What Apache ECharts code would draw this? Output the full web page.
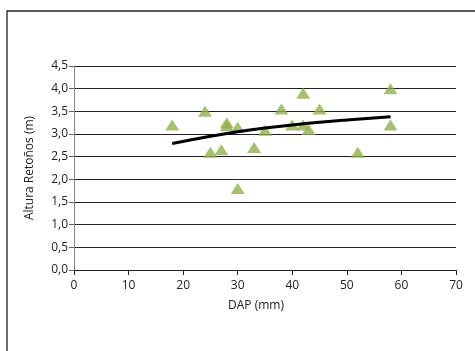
<!DOCTYPE html>
<html>
<head>
<meta charset="utf-8">
<script src="https://cdn.jsdelivr.net/npm/echarts@6/dist/echarts.min.js"></script>
<style>
html, body { margin: 0; padding: 0; background: #fff; }
#main { width: 475px; height: 351px; }
</style>
</head>
<body>
<div id="main"></div>
<script>
// observed points: DAP (mm) and height (m)
var dap = [18, 24, 25, 27, 28, 28, 30, 30, 33, 35, 38, 40, 42, 42, 43, 45, 52, 58, 58];
var altura = [3.2, 3.5, 2.6, 2.65, 3.25, 3.18, 3.15, 1.8, 2.7, 3.08, 3.55, 3.2, 3.9, 3.2, 3.1, 3.55, 2.6, 4.0, 3.2];
// trend line
var trendX = [18, 25, 30, 35, 40, 45, 50, 58];
var trendY = [2.79, 2.95, 3.05, 3.13, 3.2, 3.26, 3.31, 3.38];

var myChart = echarts.init(document.getElementById('main'));

var points = dap.map(function (x, i) { return [x, altura[i]]; });
var trend = trendX.map(function (x, i) { return [x, trendY[i]]; });

var txt = { fontFamily: 'Open Sans', fontSize: 12, color: '#222' };

option = {
    animation: false,
    backgroundColor: '#fff',
    graphic: [{
        type: 'rect',
        shape: { x: 7, y: 11, width: 520, height: 400 },
        style: { fill: 'none', stroke: '#222', lineWidth: 1.3 }
    }],
    grid: { left: 74, right: 19, top: 66, bottom: 81 },
    xAxis: {
        type: 'value',
        min: 0, max: 70, interval: 10,
        name: 'DAP (mm)',
        nameLocation: 'middle',
        nameGap: 30,
        nameTextStyle: Object.assign({ padding: [0, 18, 0, 0] }, txt),
        axisLine: { show: true, lineStyle: { color: '#222', width: 1 } },
        axisTick: { show: true, length: 5, lineStyle: { color: '#222' } },
        axisLabel: Object.assign({ margin: 10 }, txt),
        splitLine: { show: false }
    },
    yAxis: {
        type: 'value',
        min: 0, max: 4.5, interval: 0.5,
        name: 'Altura Retoños (m)',
        nameLocation: 'middle',
        nameGap: 38,
        nameTextStyle: txt,
        axisLine: { show: true, lineStyle: { color: '#888', width: 1 } },
        axisTick: { show: true, length: 5, lineStyle: { color: '#666' } },
        axisLabel: Object.assign({
            margin: 6,
            formatter: function (v) { return v.toFixed(1).replace('.', ','); }
        }, txt),
        splitLine: { show: true, lineStyle: { color: '#222', width: 1 } }
    },
    series: [{
        type: 'scatter',
        data: points,
        symbol: 'triangle',
        symbolSize: [14, 11],
        itemStyle: { color: '#8fb04a' },
        z: 3
    }, {
        type: 'line',
        data: trend,
        smooth: true,
        symbol: 'none',
        lineStyle: { color: '#000', width: 3 },
        z: 4
    }]
};

myChart.setOption(option);
</script>
</body>
</html>
